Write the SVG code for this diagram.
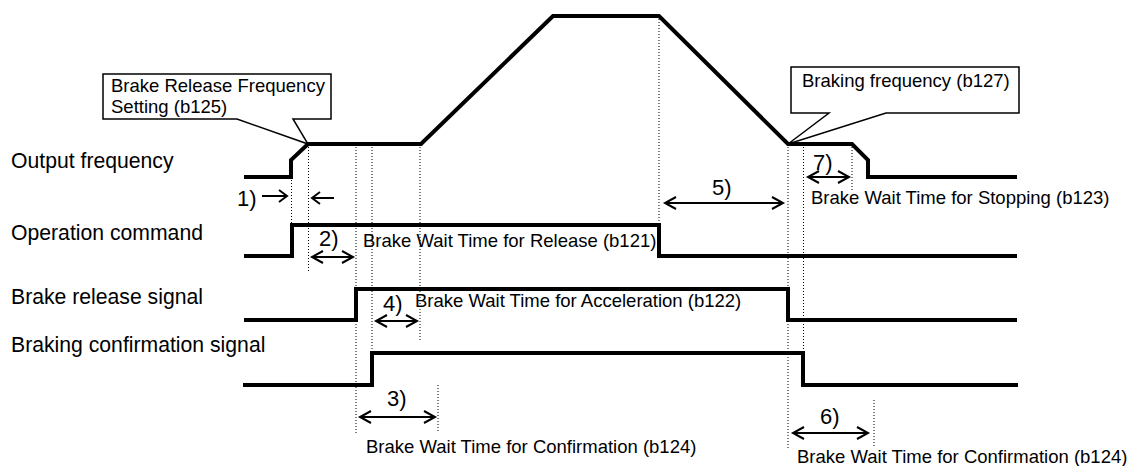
<svg xmlns="http://www.w3.org/2000/svg" width="1130" height="466" viewBox="0 0 1130 466">
<style>
text{font-family:"Liberation Sans",Arial,sans-serif;fill:#000}
.lbl{font-size:21.2px}
.t{font-size:18.5px}
.n{font-size:22px}
.wave{fill:none;stroke:#000;stroke-width:4;stroke-linejoin:miter}
.dot{stroke:#000;stroke-width:1;stroke-dasharray:1 2;fill:none}
.arr{fill:none;stroke:#000;stroke-width:2}
.call{fill:#fff;stroke:#000;stroke-width:1.5}
</style>
<rect width="1130" height="466" fill="#fff"/>
<g id="labels">
<text class="lbl" x="11" y="168">Output frequency</text>
<text class="lbl" x="11" y="240">Operation command</text>
<text class="lbl" x="11" y="304">Brake release signal</text>
<text class="lbl" x="11" y="352">Braking confirmation signal</text>
</g>
<g id="connectors">
<path class="dot" d="M291.5,177V223M308.5,144V273M356,144V435M372,144V352M420,144V340M438,385V433M659,16V225M788,144V448M803.5,144V353M852,144V192M874,400V448"/>
<path id="output-frequency" class="wave" d="M244,177H291V160L308,144H421L553,16H659L788,144H852L868,160V177H1017"/>
<path id="operation-command" class="wave" d="M244,256H292V225H659V256H1017"/>
<path id="brake-release" class="wave" d="M244,320H356V289H788V320H1017"/>
<path id="braking-confirmation" class="wave" d="M243,385H372V353H803V385H1018"/>
<g class="arr">
<path d="M262,196H287M279,190L287,196L279,202"/>
<path d="M312,198H334M320,192L312,198L320,204"/>
<path d="M312,257H353M323,251L312,257L323,263M342,251L353,257L342,263"/>
<path d="M376,321H417M387,315L376,321L387,327M406,315L417,321L406,327"/>
<path d="M360,417H435M371,411L360,417L371,423M424,411L435,417L424,423"/>
<path d="M665,203H783M676,197L665,203L676,209M772,197L783,203L772,209"/>
<path d="M808,177H849M819,171L808,177L819,183M838,171L849,177L838,183"/>
<path d="M793,433H868M804,427L793,433L804,439M857,427L868,433L857,439"/>
</g>
</g>
<g id="callout-b125">
<path class="call" d="M237,119H103V74H331V119H293L308,144Z"/>
<text class="t" x="111" y="92">Brake Release Frequency</text>
<text class="t" x="111" y="113">Setting (b125)</text>
</g>
<g id="callout-b127">
<path class="call" d="M829,113H791V67H1019V113H886L788,144Z"/>
<text class="t" x="802" y="87">Braking frequency (b127)</text>
</g>
<g id="annotations">
<text class="n" x="237" y="206">1)</text>
<text class="n" x="319" y="246">2)</text>
<text class="t" x="363" y="247">Brake Wait Time for Release (b121)</text>
<text class="n" x="383" y="311">4)</text>
<text class="t" x="415" y="307">Brake Wait Time for Acceleration (b122)</text>
<text class="n" x="387" y="406">3)</text>
<text class="t" x="366" y="453">Brake Wait Time for Confirmation (b124)</text>
<text class="n" x="712" y="195">5)</text>
<text class="n" x="813" y="170">7)</text>
<text class="t" x="811" y="204">Brake Wait Time for Stopping (b123)</text>
<text class="n" x="820" y="424">6)</text>
<text class="t" x="797" y="463">Brake Wait Time for Confirmation (b124)</text>
</g>
</svg>
